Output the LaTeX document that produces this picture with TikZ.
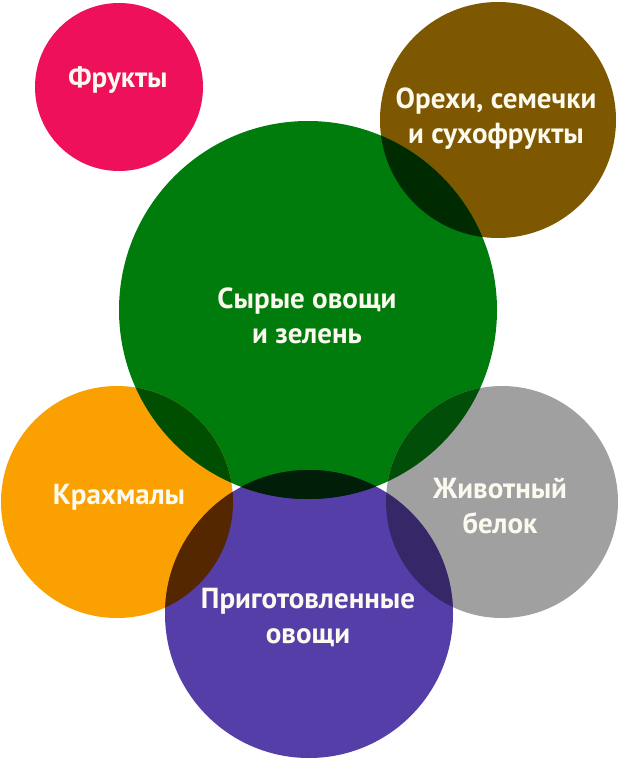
\documentclass[tikz,border=0pt]{standalone}
\usepackage{fontspec}
\setmainfont{PT Sans}
\definecolor{fruitpink}{RGB}{238,16,90}
\definecolor{nutbrown}{RGB}{125,88,0}
\definecolor{rawgreen}{RGB}{0,124,12}
\definecolor{starchorange}{RGB}{250,160,0}
\definecolor{proteingray}{RGB}{160,160,160}
\definecolor{cookedpurple}{RGB}{86,62,168}
\definecolor{rawnut}{RGB}{0,43,0}
\definecolor{rawstarch}{RGB}{0,78,0}
\definecolor{rawprotein}{RGB}{0,78,8}
\definecolor{rawcooked}{RGB}{0,30,8}
\definecolor{starchcooked}{RGB}{84,39,0}
\definecolor{proteincooked}{RGB}{54,39,105}
\definecolor{txtwhite}{RGB}{252,249,238}
\begin{document}
\begin{tikzpicture}[x=1pt,y=-1pt,
	foodlabel/.style={text=txtwhite,font=\bfseries\fontsize{29}{35}\selectfont,align=center}]
	\useasboundingbox (0,0) rectangle (620,760);
	\fill[white] (0,0) rectangle (620,760);% background
	\fill[fruitpink] (119,87) circle[radius=84];% fruits
	\fill[nutbrown] (498,120) circle[radius=118];% nuts
	\fill[rawgreen] (308,310) circle[radius=189];% raw vegetables
	\fill[starchorange] (117,502) circle[radius=116];% starches
	\fill[proteingray] (502,502) circle[radius=116];% protein
	\fill[cookedpurple] (309,614) circle[radius=144];% cooked vegetables
	\begin{scope}% overlaps with the green circle
		\clip (308,310) circle[radius=189];
		\fill[rawnut] (498,120) circle[radius=118];
		\fill[rawstarch] (117,502) circle[radius=116];
		\fill[rawprotein] (502,502) circle[radius=116];
		\fill[rawcooked] (309,614) circle[radius=144];
	\end{scope}
	\begin{scope}% overlaps with the purple circle
		\clip (309,614) circle[radius=144];
		\fill[starchcooked] (117,502) circle[radius=116];
		\fill[proteincooked] (502,502) circle[radius=116];
		\clip (308,310) circle[radius=189];
		\fill[rawcooked] (309,614) circle[radius=144];
	\end{scope}
	\node[foodlabel] (fruits) at (118,80) {Фрукты};
	\node[foodlabel] (nuts) at (496,119) {Орехи, семечки\\и сухофрукты};
	\node[foodlabel] (raw) at (307,316) {Сырые овощи\\и зелень};
	\node[foodlabel] (starch) at (119,497) {Крахмалы};
	\node[foodlabel] (protein) at (500,506) {Животный\\белок};
	\node[foodlabel] (cooked) at (308,617) {Приготовленные\\овощи};
\end{tikzpicture}
\end{document}
